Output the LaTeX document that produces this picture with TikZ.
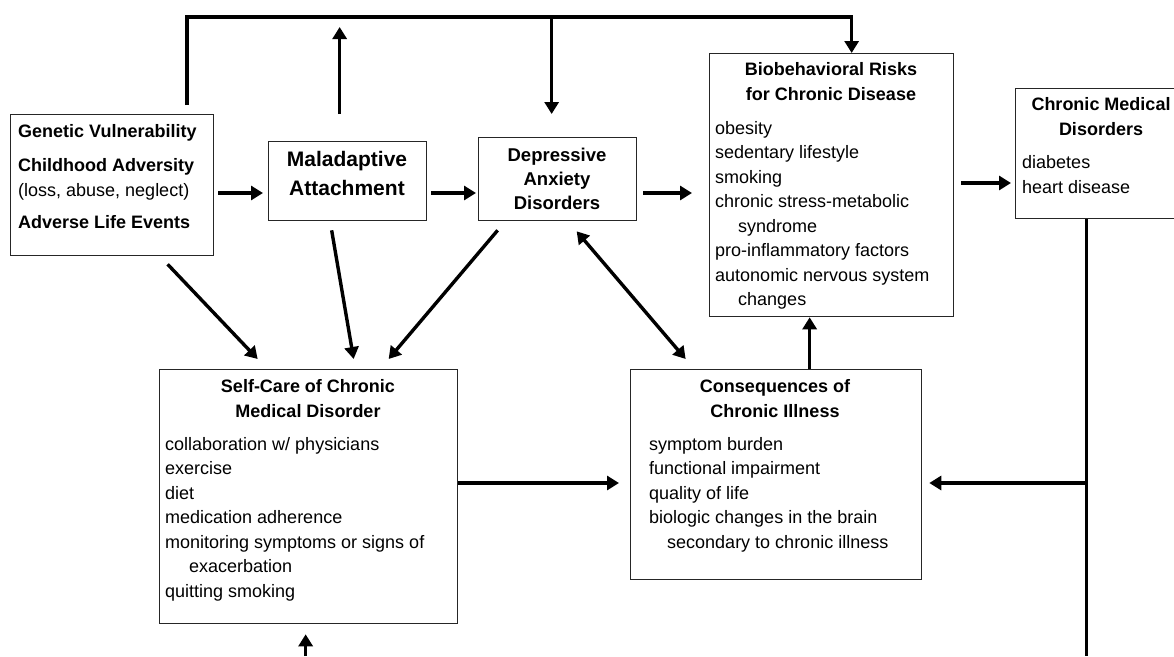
\documentclass[tikz,border=0pt]{standalone}
\usepackage{fontspec}
\setmainfont{Liberation Sans}
\usetikzlibrary{arrows.meta}

\begin{document}
\begin{tikzpicture}[x=1pt,y=-1pt,
    box/.style={draw=black!85, line width=1.3pt, inner sep=0pt, anchor=north west},
    arr/.style={line width=3.4pt, -{Triangle[length=12pt,width=14pt]}},
    arrb/.style={line width=3.4pt, {Triangle[length=12pt,width=14pt]}-{Triangle[length=12pt,width=14pt]}},
    ln/.style={line width=3.4pt},
    hd/.style={font=\bfseries\fontsize{18}{24.5}\selectfont, align=center, anchor=base, inner sep=0pt},
    txt/.style={font=\fontsize{18}{24.5}\selectfont, align=left, anchor=base west, inner sep=0pt}]

    %%%%% frame %%%%%
    \useasboundingbox (0,0) rectangle (1174,656);

    %%%%% boxes %%%%%
    \node[box, minimum width=203pt, minimum height=141pt] (gen) at (10,114) {};
    \node[box, minimum width=158pt, minimum height=79pt] (mal) at (268,141) {};
    \node[box, minimum width=158pt, minimum height=83pt] (dep) at (478,137) {};
    \node[box, minimum width=244pt, minimum height=263pt] (bio) at (709,53) {};
    \node[box, minimum width=172pt, minimum height=130pt] (chr) at (1015,88) {};
    \node[box, minimum width=298pt, minimum height=254pt] (self) at (159,369) {};
    \node[box, minimum width=291pt, minimum height=210pt] (cons) at (630,369) {};

    %%%%% texts (anchored at the last line) %%%%%
    \node[txt] (gentxt) at (18,228.5) {{\bfseries Genetic Vulnerability}\\[10pt]{\bfseries Childhood Adversity}\\(loss, abuse, neglect)\\[8pt]{\bfseries Adverse Life Events}};
    \node[hd, font=\bfseries\fontsize{21}{28.5}\selectfont] (maltxt) at (347,195) {Maladaptive\\Attachment};
    \node[hd, font=\bfseries\fontsize{18.5}{24}\selectfont] (deptxt) at (557,209) {Depressive\\Anxiety\\Disorders};

    \node[hd] (biohd) at (831,100) {Biobehavioral Risks\\for Chronic Disease};
    \node[txt] (biotxt) at (715,305.5) {obesity\\sedentary lifestyle\\smoking\\chronic stress-metabolic\\\hspace*{23pt}syndrome\\pro-inflammatory factors\\autonomic nervous system\\\hspace*{23pt}changes};

    \node[hd] (chrhd) at (1101,135) {Chronic Medical\\Disorders};
    \node[txt] (chrtxt) at (1022,193) {diabetes\\heart disease};

    \node[hd] (selfhd) at (308,417) {Self-Care of Chronic\\Medical Disorder};
    \node[txt] (selftxt) at (165,597) {collaboration w/ physicians\\exercise\\diet\\medication adherence\\monitoring symptoms or signs of\\\hspace*{24pt}exacerbation\\quitting smoking};

    \node[hd] (conshd) at (775,417) {Consequences of\\Chronic Illness};
    \node[txt] (constxt) at (649,548) {symptom burden\\functional impairment\\quality of life\\biologic changes in the brain\\\hspace*{18pt}secondary to chronic illness};

    %%%%% levels %%%%%
    \coordinate (topl) at (0,17);
    \coordinate (row) at (0,193);
    \coordinate (row2) at (0,183);
    \coordinate (row3) at (0,483);
    \coordinate (btm) at (0,656);

    %%%%% connectors %%%%%
    \draw[arr] ([xshift=75pt,yshift=9pt]gen.north) |- ([xshift=20pt]bio.north |- topl) -- ([xshift=20pt]bio.north);
    \draw[arr, shorten >=10pt] ([xshift=-8pt,yshift=27pt]mal.north) -- ([xshift=-8pt]mal.north |- topl);
    \draw[arr] ([xshift=-6pt]dep.north |- topl) -- ([xshift=-6pt,yshift=23pt]dep.north);

    \draw[arr, shorten <=4pt, shorten >=5pt] (gen.east |- row) -- (mal.west |- row);
    \draw[arr, shorten <=4pt, shorten >=2pt] (mal.east |- row) -- (dep.west |- row);
    \draw[arr, shorten <=6pt, shorten >=17pt] (dep.east |- row) -- (bio.west |- row);
    \draw[arr, shorten <=7pt, shorten >=4pt] (bio.east |- row2) -- (chr.west |- row2);

    \draw[arr] ([xshift=55.5pt,yshift=-8pt]gen.south) -- ([xshift=-51pt,yshift=10pt]self.north);
    \draw[arr] ([xshift=-16pt,yshift=-9pt]mal.south) -- ([xshift=45pt,yshift=10pt]self.north);
    \draw[arr] ([xshift=-60pt,yshift=-9pt]dep.south) -- ([xshift=80pt,yshift=10pt]self.north);
    \draw[arrb] ([xshift=19pt,yshift=-10pt]dep.south) -- ([xshift=-90.5pt,yshift=10pt]cons.north);

    \draw[arr] ([xshift=33.5pt]cons.north) -- ([xshift=33.5pt]cons.north |- bio.south);
    \draw[arr, shorten >=11pt] (self.east |- row3) -- (cons.west |- row3);

    \draw[ln] ([xshift=-15pt]chr.south) -- ([xshift=-15pt]chr.south |- btm);
    \draw[arr, shorten >=7pt] ([xshift=-15pt]chr.south |- row3) -- (cons.east |- row3);
    \draw[arr] ([xshift=-3pt]self.south |- btm) -- ([xshift=-3pt,yshift=-10pt]self.south);

\end{tikzpicture}
\end{document}
